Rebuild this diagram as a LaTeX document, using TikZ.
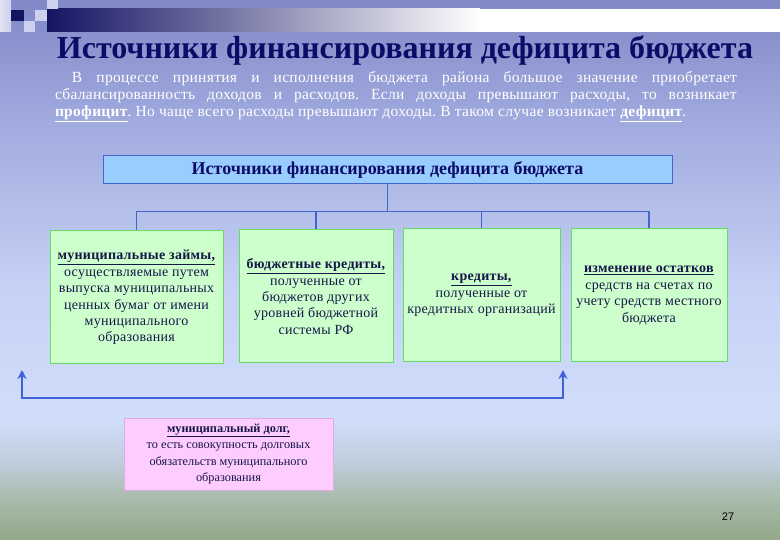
\documentclass[tikz,border=0pt]{standalone}
\usepackage{fontspec}
\setmainfont{Liberation Serif}
\newfontfamily\pagefam{Liberation Sans}
\newfontfamily\boxfam[LetterSpace=2]{Liberation Serif}
\newfontfamily\parafam[LetterSpace=2]{Liberation Serif}
\usetikzlibrary{arrows.meta}
\frenchspacing
\definecolor{bgA}{RGB}{148,168,138}
\definecolor{bgB}{RGB}{168,186,170}
\definecolor{bgC}{RGB}{192,206,222}
\definecolor{bgD}{RGB}{208,221,250}
\definecolor{bgE}{RGB}{198,210,245}
\definecolor{bgF}{RGB}{160,170,222}
\definecolor{bgG}{RGB}{128,136,198}
\definecolor{navyC}{RGB}{20,20,100}
\definecolor{sqL}{RGB}{205,208,238}
\definecolor{titleC}{RGB}{12,12,104}
\definecolor{hdrFill}{RGB}{153,204,255}
\definecolor{hdrDraw}{RGB}{68,102,204}
\definecolor{connC}{RGB}{68,102,204}
\definecolor{arrC}{RGB}{64,96,216}
\definecolor{gFill}{RGB}{204,255,204}
\definecolor{gDraw}{RGB}{102,220,102}
\definecolor{pFill}{RGB}{255,204,255}
\definecolor{pDraw}{RGB}{224,170,224}
\definecolor{boxtext}{RGB}{22,22,72}
\begin{document}
\begin{tikzpicture}[x=1pt,y=-1pt,
  conn/.style={draw=connC, line width=1.1pt},
  arr/.style={draw=arrC, line width=2pt, {Stealth[length=9pt,width=9pt]}-{Stealth[length=9pt,width=9pt]}},
  gbox/.style={draw=gDraw, fill=gFill, line width=1pt, minimum width=#1, minimum height=133pt, inner sep=0pt, align=center, text=boxtext, font=\boxfam\fontsize{14}{16.4}\selectfont},
  pbox/.style={draw=pDraw, fill=pFill, line width=1pt, minimum width=209pt, minimum height=72pt, inner sep=0pt, align=center, text=boxtext, font=\fontsize{12.3}{16.5}\selectfont},
  hdrbox/.style={draw=hdrDraw, fill=hdrFill, line width=1pt, minimum width=569pt, minimum height=28pt, inner sep=0pt, text=titleC, font=\bfseries\fontsize{18}{20}\selectfont},
  titletext/.style={inner sep=0pt, font=\bfseries\fontsize{32}{36}\selectfont},
  paratext/.style={inner sep=0pt, text width=682pt, align=justify, text=white, font=\parafam\fontsize{15.5}{17}\selectfont\frenchspacing},
  pagenum/.style={inner sep=0pt, font=\pagefam\fontsize{11}{12}\selectfont, text=black}
]
\useasboundingbox (0,0) rectangle (780,540);
% background
\shade[top color=bgG, bottom color=bgF] (0,0) rectangle (780,120.5);
\shade[top color=bgF, bottom color=bgE] (0,120) rectangle (780,290.5);
\shade[top color=bgE, bottom color=bgD] (0,290) rectangle (780,420.5);
\shade[top color=bgD, bottom color=bgC] (0,420) rectangle (780,460.5);
\shade[top color=bgC, bottom color=bgB] (0,460) rectangle (780,500.5);
\shade[top color=bgB, bottom color=bgA] (0,500) rectangle (780,540);
% top decoration
\shade[left color=navyC, right color=white] (47,9) rectangle (480,32);
\fill[white] (479.5,9) rectangle (780,32);
\shade[left color=sqL!60!white, right color=sqL] (0,0) rectangle (11,32);
\fill[navyC] (11,10) rectangle (24,21);
\fill[sqL] (35,10) rectangle (47,21);
\fill[sqL] (47,0) rectangle (58,9);
\fill[sqL] (24,21) rectangle (35,32);
% title
\node[titletext, text=titleC] (title) at (405,50) {Источники финансирования дефицита бюджета};
% paragraph
\node[paratext] (para) at (396,97) {\hspace*{17pt}В процессе принятия и исполнения бюджета района большое значение приобретает\linebreak сбалансированность доходов и расходов. Если доходы превышают расходы, то возникает\linebreak \textbf{\underline{профицит}}. Но чаще всего расходы превышают доходы. В таком случае возникает \textbf{\underline{дефицит}}.};
% header
\node[hdrbox] (hdr) at (387.5,170) {Источники финансирования дефицита бюджета};
% green boxes
\node[gbox=173pt] (b1) at (136.5,297.5) {\underline{\textbf{муниципальные займы,}}\\осуществляемые путем\\выпуска муниципальных\\ценных бумаг от имени\\муниципального\\образования};
\node[gbox=154pt] (b2) at (316,296.5) {\underline{\textbf{бюджетные кредиты,}}\\полученные от\\бюджетов других\\уровней бюджетной\\системы РФ};
\node[gbox=157pt] (b3) at (481.5,295.5) {\underline{\textbf{кредиты,}}\\полученные от\\кредитных организаций};
\node[gbox=156pt] (b4) at (649,295.5) {\underline{\textbf{изменение остатков}}\\средств на счетах по\\учету средств местного\\бюджета};
% connectors
\draw[conn] (hdr.south) -- ++(0,27) coordinate (jn);
\draw[conn] (b1.north) |- (jn) -| (b4.north);
\draw[conn] (b2.north) -- (b2.north |- jn);
\draw[conn] (b3.north) -- (b3.north |- jn);
% pink box
\node[pbox] (debt) at (228.5,454) {\underline{\textbf{муниципальный долг,}}\\то есть совокупность долговых\\обязательств муниципального\\образования};
% bottom arrows
\coordinate (aL) at (22,370);
\coordinate (cL) at (22,398);
\coordinate (cR) at (563,398);
\coordinate (aR) at (563,370);
\draw[arr] (aL) -- (cL) -- (cR) -- (aR);
% page number
\node[pagenum] (pg) at (728,517) {27};
\end{tikzpicture}
\end{document}
